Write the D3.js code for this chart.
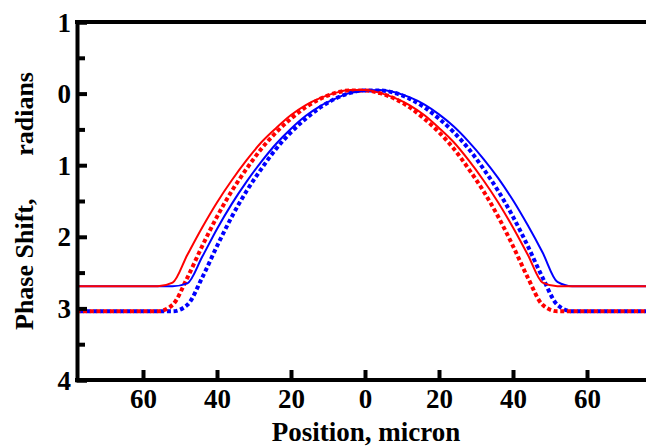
<!DOCTYPE html>
<html>
<head>
<meta charset="utf-8">
<script src="https://cdn.jsdelivr.net/npm/d3@7"></script>
<style>
  html, body { margin: 0; padding: 0; background: #fff; }
  svg { display: block; }
  text { font-family: "Liberation Serif", "Times New Roman", serif; font-weight: bold; }
</style>
</head>
<body>
<svg id="chart" width="646" height="446"></svg>
<script>
// Positions (micron) sampled along the curves
const positions = [-78, -60, -56, -52, -48, -44, -40, -36, -32, -28, -24, -20, -16, -12, -8, -4, 0, 4, 8, 12, 16, 20, 24, 28, 32, 36, 40, 44, 48, 52, 56, 60, 78];

// Phase shift (radians)
const redSolid   = [2.69, 2.69, 2.69, 2.64, 2.25, 1.87, 1.52, 1.21, 0.93, 0.68, 0.48, 0.30, 0.16, 0.06, -0.01, -0.05, -0.05, -0.01, 0.06, 0.16, 0.30, 0.48, 0.68, 0.93, 1.21, 1.52, 1.87, 2.25, 2.64, 2.69, 2.69, 2.69, 2.69];
const blueSolid  = [2.69, 2.69, 2.69, 2.69, 2.65, 2.28, 1.89, 1.54, 1.23, 0.95, 0.70, 0.49, 0.31, 0.17, 0.07, -0.01, -0.04, -0.05, -0.02, 0.05, 0.15, 0.29, 0.46, 0.67, 0.91, 1.18, 1.49, 1.84, 2.22, 2.63, 2.69, 2.69, 2.69];
const redDotted  = [3.04, 3.04, 3.04, 2.95, 2.57, 2.13, 1.72, 1.36, 1.05, 0.77, 0.54, 0.35, 0.19, 0.07, -0.01, -0.045, -0.045, -0.006, 0.07, 0.19, 0.35, 0.54, 0.77, 1.05, 1.36, 1.72, 2.13, 2.57, 2.95, 3.04, 3.04, 3.04, 3.04];
const blueDotted = [3.04, 3.04, 3.04, 3.04, 2.95, 2.57, 2.13, 1.72, 1.36, 1.05, 0.77, 0.54, 0.35, 0.19, 0.07, -0.01, -0.045, -0.045, -0.01, 0.07, 0.19, 0.35, 0.54, 0.77, 1.05, 1.36, 1.72, 2.13, 2.57, 2.95, 3.04, 3.04, 3.04];

const xTicks = [-60, -40, -20, 0, 20, 40, 60];
const yTicks = [-1, 0, 1, 2, 3, 4];
const yMinorTicks = [-0.5, 0.5, 1.5, 2.5, 3.5];

const xLabel = "Position, micron";
const yLabelA = "Phase Shift,";
const yLabelB = "radians";

const svg = d3.select("#chart");
const x = d3.scaleLinear().domain([-78, 78]).range([76.4, 653.6]);
const y = d3.scaleLinear().domain([-1, 4]).range([22, 380]);

const line = d3.line()
  .x((d, i) => x(positions[i]))
  .y(d => y(d))
  .curve(d3.curveMonotoneX);

const series = [
  { data: blueDotted, color: "#0000ff", width: 4, dash: "4,2.7", offset: 3.3 },
  { data: redDotted,  color: "#ff0000", width: 4, dash: "4,2.7", offset: 0 },
  { data: blueSolid,  color: "#0000ff", width: 2, dash: null, offset: 0 },
  { data: redSolid,   color: "#ff0000", width: 2, dash: null, offset: 0 }
];

svg.append("defs").append("clipPath").attr("id", "clip")
  .append("rect").attr("x", 77).attr("y", 22).attr("width", 600).attr("height", 358);

const plot = svg.append("g").attr("clip-path", "url(#clip)");
series.forEach(s => {
  plot.append("path")
    .attr("d", line(s.data))
    .attr("fill", "none")
    .attr("stroke", s.color)
    .attr("stroke-width", s.width)
    .attr("stroke-dasharray", s.dash)
    .attr("stroke-dashoffset", s.offset);
});

// Y axis (major)
const yAxis = svg.append("g").attr("transform", "translate(77,0)")
  .call(d3.axisLeft(y).tickValues(yTicks).tickFormat(d => Math.abs(d)).tickSize(-10).tickPadding(6));
yAxis.select(".domain").attr("stroke", "#000").attr("stroke-width", 4);
yAxis.selectAll(".tick line").attr("stroke", "#000").attr("stroke-width", 4);
yAxis.selectAll(".tick text").attr("font-size", 27).attr("fill", "#000").attr("dy", "0.34em");

// Y axis minor ticks
const yMinor = svg.append("g").attr("transform", "translate(77,0)")
  .call(d3.axisLeft(y).tickValues(yMinorTicks).tickFormat("").tickSize(-8));
yMinor.select(".domain").remove();
yMinor.selectAll(".tick line").attr("stroke", "#000").attr("stroke-width", 4);

// X axis
const xAxis = svg.append("g").attr("transform", "translate(0,380)")
  .call(d3.axisBottom(x).tickValues(xTicks).tickFormat(d => Math.abs(d)).tickSize(-10).tickPadding(9));
xAxis.select(".domain").remove();
xAxis.selectAll(".tick line").attr("stroke", "#000").attr("stroke-width", 4);
xAxis.selectAll(".tick text").attr("font-size", 27).attr("fill", "#000");

// Bottom and top frame lines
svg.append("line").attr("x1", 75).attr("x2", 646).attr("y1", 380).attr("y2", 380)
  .attr("stroke", "#000").attr("stroke-width", 4);
svg.append("line").attr("x1", 75).attr("x2", 646).attr("y1", 22).attr("y2", 22)
  .attr("stroke", "#000").attr("stroke-width", 4);

// Axis titles
svg.append("text").attr("x", 366).attr("y", 441).attr("text-anchor", "middle")
  .attr("font-size", 27).text(xLabel);

svg.append("text").attr("transform", "translate(33,330) rotate(-90)")
  .attr("text-anchor", "start").attr("font-size", 26).text(yLabelA);
svg.append("text").attr("transform", "translate(33,72) rotate(-90)")
  .attr("text-anchor", "end").attr("font-size", 26).text(yLabelB);
</script>
</body>
</html>
